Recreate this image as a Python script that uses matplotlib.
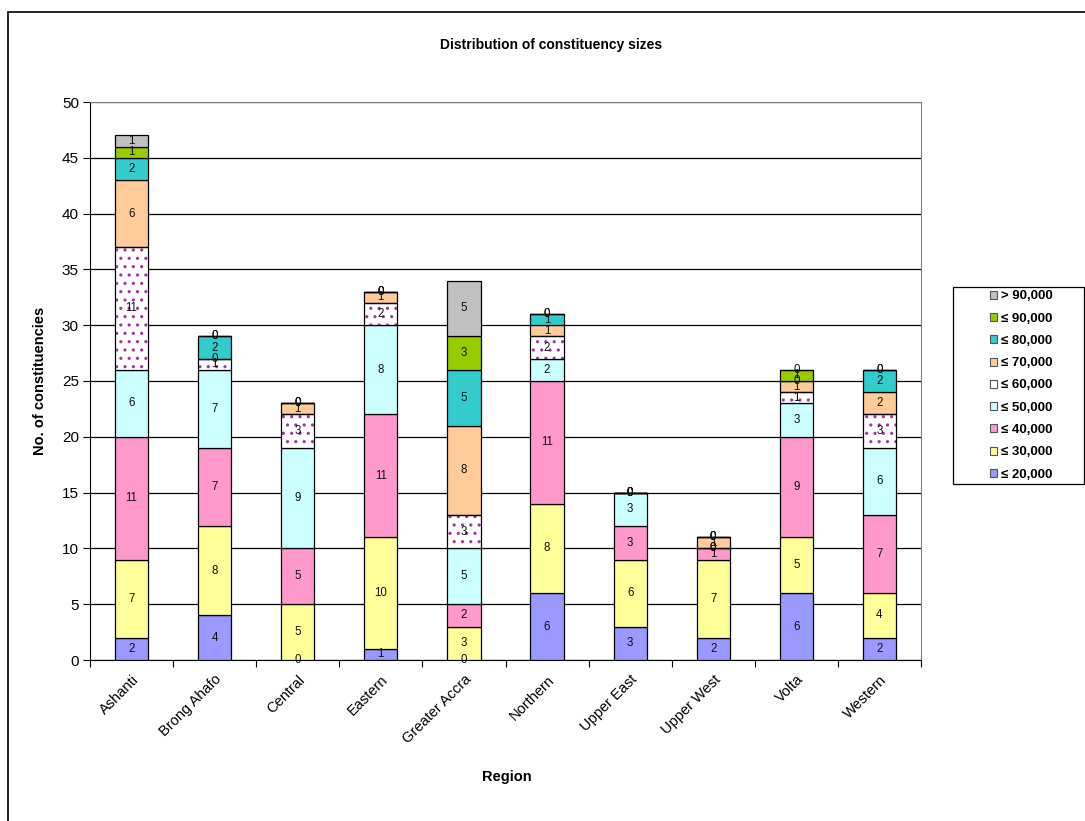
import matplotlib
matplotlib.use("Agg")
import matplotlib.pyplot as plt
from matplotlib.patches import Patch, Rectangle
import numpy as np

plt.rcParams['font.family'] = ['Liberation Sans', 'DejaVu Sans']
plt.rcParams['hatch.linewidth'] = 1.1

regions = ["Ashanti", "Brong Ahafo", "Central", "Eastern", "Greater Accra",
           "Northern", "Upper East", "Upper West", "Volta", "Western"]
series_names = ["≤ 20,000", "≤ 30,000", "≤ 40,000", "≤ 50,000", "≤ 60,000",
                "≤ 70,000", "≤ 80,000", "≤ 90,000", "> 90,000"]
le_20k = [2, 4, 0, 1, 0, 6, 3, 2, 6, 2]
le_30k = [7, 8, 5, 10, 3, 8, 6, 7, 5, 4]
le_40k = [11, 7, 5, 11, 2, 11, 3, 1, 9, 7]
le_50k = [6, 7, 9, 8, 5, 2, 3, 0, 3, 6]
le_60k = [11, 1, 3, 2, 3, 2, 0, 0, 1, 3]
le_70k = [6, 0, 1, 1, 8, 1, 0, 1, 1, 2]
le_80k = [2, 2, 0, 0, 5, 1, 0, 0, 0, 2]
le_90k = [1, 0, 0, 0, 3, 0, 0, 0, 1, 0]
gt_90k = [1, 0, 0, 0, 5, 0, 0, 0, 0, 0]
series = [le_20k, le_30k, le_40k, le_50k, le_60k, le_70k, le_80k, le_90k, gt_90k]
colors = ["#9999FF", "#FFFF99", "#FF99CC", "#CCFFFF", "#FFFFFF",
          "#FFCC99", "#33CCCC", "#99CC00", "#C0C0C0"]

W, H = 1085, 821
fig = plt.figure(figsize=(W / 100, H / 100), dpi=100)
ax = fig.add_axes([90 / W, 1 - 660 / H, (921 - 90) / W, (660 - 102) / H])

x = np.arange(len(regions))
bw = 0.4
bottom = np.zeros(len(regions))
handles = []
for i, (vals, col, name) in enumerate(zip(series, colors, series_names)):
    vals = np.array(vals, dtype=float)
    if i == 4:
        ax.bar(x, vals, bw, bottom=bottom, color="white", edgecolor="#9A3C9A",
               hatch="..", linewidth=0, zorder=3)
        ax.bar(x, vals, bw, bottom=bottom, fill=False, edgecolor="black",
               linewidth=0.9, zorder=4)
        h = Patch(facecolor="white", edgecolor="#555555", linewidth=0.8)
    else:
        ax.bar(x, vals, bw, bottom=bottom, color=col, edgecolor="black",
               linewidth=0.9, zorder=3)
        h = Patch(facecolor=col, edgecolor="#555555", linewidth=0.8)
    handles.append(h)
    for xi, b, v in zip(x, bottom, vals):
        ax.text(xi, b + v / 2, f"{int(v)}", ha="center", va="center",
                fontsize=8.3, color="#111111", zorder=5)
    bottom = bottom + vals

ax.set_xlim(-0.5, len(regions) - 0.5)
ax.set_ylim(0, 50)
ax.set_yticks(np.arange(0, 51, 5))
ax.yaxis.grid(True, color="black", linewidth=0.9, zorder=0)
ax.set_axisbelow(True)
ax.set_xticks(np.arange(-0.5, len(regions), 1), minor=False)
ax.set_xticklabels([])
ax.set_xticks(x, minor=True)
ax.set_xticklabels(regions, minor=True, rotation=45, ha="right",
                   rotation_mode="anchor", fontsize=10.5)
ax.tick_params(axis="x", which="minor", length=0, pad=9)
ax.tick_params(axis="x", which="major", length=5, direction="out", color="black")
ax.tick_params(axis="y", length=5, direction="out", labelsize=11, pad=3)
for side in ["top", "right"]:
    ax.spines[side].set_color("#808080")
ax.spines["left"].set_color("black")
ax.spines["bottom"].set_color("black")

fig.text(551 / W, 1 - 45 / H, "Distribution of constituency sizes",
         ha="center", va="center", fontsize=10, fontweight="bold")
fig.text(507 / W, 1 - 777 / H, "Region", ha="center", va="center",
         fontsize=10.5, fontweight="bold")
fig.text(40 / W, 1 - 381 / H, "No. of constituencies", ha="center",
         va="center", rotation=90, fontsize=10.5, fontweight="bold")

leg = fig.legend(handles[::-1], series_names[::-1], loc="center",
                 bbox_to_anchor=(1021 / W, 1 - 385.5 / H),
                 prop={"weight": "bold", "size": 9.5}, frameon=False,
                 handlelength=0.55, handleheight=0.55, handletextpad=0.3,
                 labelspacing=0.78, borderpad=0, borderaxespad=0)

fig.patches.append(Rectangle((953 / W, 1 - 484 / H), (1084 - 953) / W,
                             (484 - 287) / H, transform=fig.transFigure,
                             fill=False, edgecolor="black", linewidth=0.9))
fig.patches.append(Rectangle((8 / W, -0.05), 1.2, 1 - 12 / H + 0.05,
                             transform=fig.transFigure, fill=False,
                             edgecolor="black", linewidth=1.2))

fig.savefig("out.png", dpi=100, facecolor="white")
